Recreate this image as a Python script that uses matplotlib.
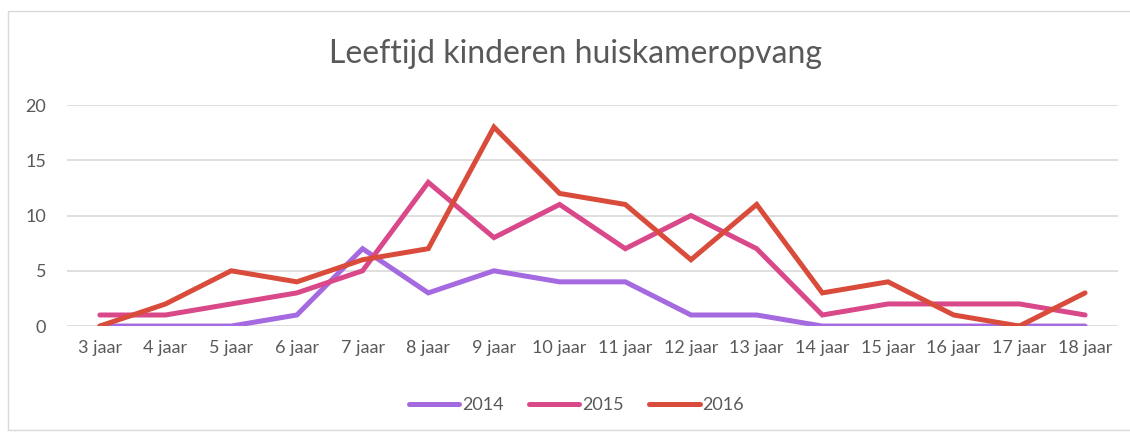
import matplotlib.pyplot as plt
from matplotlib.patches import Rectangle

categories = ["3 jaar", "4 jaar", "5 jaar", "6 jaar", "7 jaar", "8 jaar", "9 jaar", "10 jaar",
              "11 jaar", "12 jaar", "13 jaar", "14 jaar", "15 jaar", "16 jaar", "17 jaar", "18 jaar"]
y2014 = [0, 0, 0, 1, 7, 3, 5, 4, 4, 1, 1, 0, 0, 0, 0, 0]
y2015 = [1, 1, 2, 3, 5, 13, 8, 11, 7, 10, 7, 1, 2, 2, 2, 1]
y2016 = [0, 2, 5, 4, 6, 7, 18, 12, 11, 6, 11, 3, 4, 1, 0, 3]

plt.rcParams['font.family'] = ['Lato', 'DejaVu Sans']
text_col = "#595959"

fig = plt.figure(figsize=(11.3, 4.33), dpi=100)
ax = fig.add_axes([0.0593, 0.247, 0.93, 0.5105])

# chart border
fig.patches.append(Rectangle((8 / 1130, 3 / 433), 1.2, 419 / 433, transform=fig.transFigure,
                             fill=False, edgecolor="#d9d9d9", linewidth=1))

x = list(range(len(categories)))
lw = 3.6
ax.plot(x, y2014, color="#a569e0", lw=lw, solid_capstyle="round", solid_joinstyle="miter", label="2014")
ax.plot(x, y2015, color="#d9498a", lw=lw, solid_capstyle="round", solid_joinstyle="miter", label="2015")
ax.plot(x, y2016, color="#d94c3b", lw=lw, solid_capstyle="round", solid_joinstyle="miter", label="2016")

ax.set_xlim(-0.5, len(categories) - 0.5)
ax.set_ylim(0, 20)
ax.set_yticks([0, 5, 10, 15, 20])
ax.set_xticks(x)
ax.set_xticklabels(categories)
ax.yaxis.grid(True, color="#d9d9d9", lw=1.2)
ax.set_axisbelow(True)
for s in ax.spines.values():
    s.set_visible(False)
ax.tick_params(length=0, labelsize=13, labelcolor=text_col)
ax.tick_params(axis="x", pad=10)
ax.tick_params(axis="y", pad=15)

fig.text(0.509, 0.875, "Leeftijd kinderen huiskameropvang", ha="center", va="center",
         fontsize=23, color=text_col)

leg = fig.legend(loc="center", bbox_to_anchor=(0.51, 0.064), ncol=3, frameon=False,
                 fontsize=13, handlelength=2.8, handletextpad=0.15, columnspacing=1.4)
for t in leg.get_texts():
    t.set_color(text_col)

fig.savefig("out.png", dpi=100)
